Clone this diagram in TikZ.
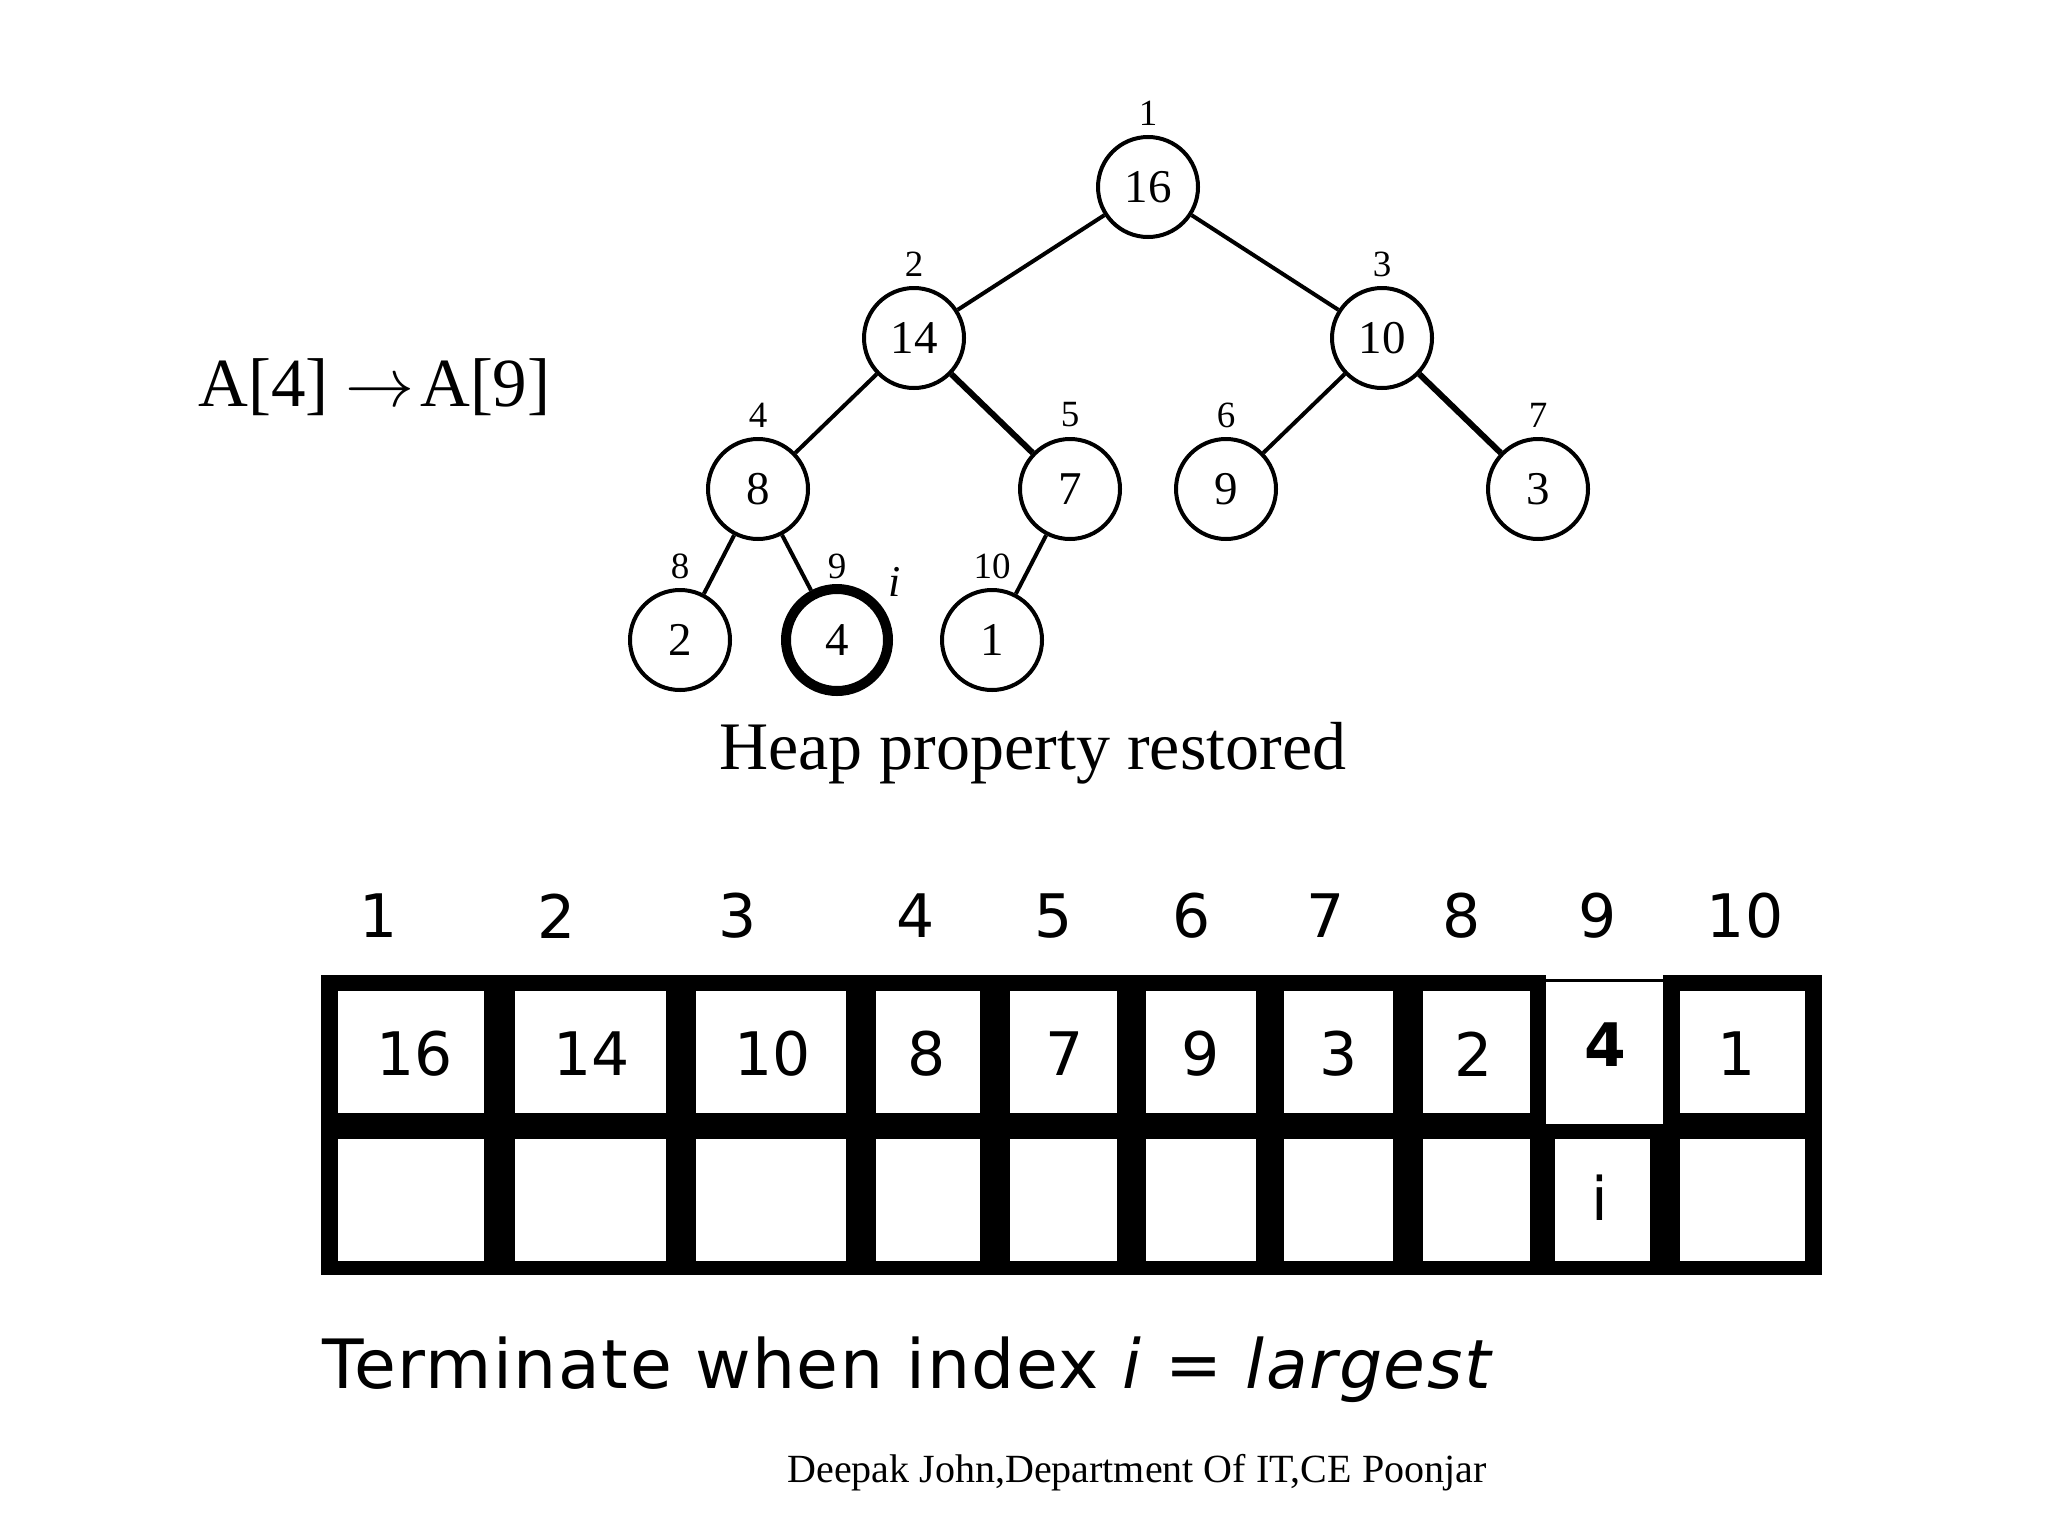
\documentclass[tikz,border=0pt]{standalone}
\usepackage{fix-cm}
\usepackage{fontspec}
\setmainfont{Liberation Serif}
\newfontfamily\dv{DejaVu Sans}[ItalicFont={DejaVu Sans Oblique},BoldFont={DejaVu Sans Bold}]
\newfontfamily\dvsp{DejaVu Sans}[LetterSpace=2.3,ItalicFont={DejaVu Sans Oblique},BoldFont={DejaVu Sans Bold}]
\begin{document}
\begin{tikzpicture}[x=0.5pt,y=-0.5pt,
  hnode/.style={circle,draw,line width=2pt,minimum size=50pt,inner sep=0pt,font=\fontsize{23.5}{24}\selectfont},
  hidx/.style={inner sep=0pt,font=\fontsize{18.5}{19}\selectfont},
  hedge/.style={line width=2pt},
  hedgethick/.style={line width=3pt},
  cellnum/.style={inner sep=0pt,font=\dv\fontsize{30}{30}\selectfont},
  bigtext/.style={anchor=base west,inner sep=0pt,font=\fontsize{34}{35}\selectfont}]
\useasboundingbox (0,0) rectangle (2048,1536);
\fill[white] (0,0) rectangle (2048,1536);
% ---- tree ----
\node[hnode] (n1) at (1148,187) {16};
\node[hnode] (n2) at (914,338) {14};
\node[hnode] (n3) at (1382,338) {10};
\node[hnode] (n4) at (758,489) {8};
\node[hnode] (n5) at (1070,489) {7};
\node[hnode] (n6) at (1226,489) {9};
\node[hnode] (n7) at (1538,489) {3};
\node[hnode] (n8) at (680,640) {2};
\node[hnode,line width=5pt,minimum size=51pt] (n9) at (837,640) {4};
\node[hnode] (n10) at (992,640) {1};
\draw[hedge] (n1) -- (n2);
\draw[hedge] (n1) -- (n3);
\draw[hedge] (n2) -- (n4);
\draw[hedgethick] (n2) -- (n5);
\draw[hedge] (n3) -- (n6);
\draw[hedgethick] (n3) -- (n7);
\draw[hedge] (n4) -- (n8);
\draw[hedge] (n4) -- (n9);
\draw[hedge] (n5) -- (n10);
\node[hidx] (l1) at (1148,113) {1};
\node[hidx] (l2) at (914,264) {2};
\node[hidx] (l3) at (1382,264) {3};
\node[hidx] (l4) at (758,415) {4};
\node[hidx] (l5) at (1070,415) {5};
\node[hidx] (l6) at (1226,415) {6};
\node[hidx] (l7) at (1538,415) {7};
\node[hidx] (l8) at (680,566) {8};
\node[hidx] (l9) at (837,566) {9};
\node[hidx] (l10) at (992,566) {10};
\node[inner sep=0pt,font=\fontsize{22}{22}\selectfont\itshape] (itree) at (895,582) {i};
% ---- texts ----
\node[bigtext,font=\fontsize{34.5}{35}\selectfont] (amap) at (198,406) {A[4] $\rightarrow$\hspace{-6pt} A[9]};
\node[bigtext] (heap) at (719,769) {Heap property restored};
% ---- array ----
\fill[black] (321,975) rectangle (1822,1275);
\foreach \a/\b in {338/484,515/666,696/846,876/980,1010/1117,1146/1256,1284/1393,1423/1530,1680/1805}{
  \fill[white] (\a,991) rectangle (\b,1113);
  \fill[white] (\a,1139) rectangle (\b,1261);
}
\fill[white] (1546,975) rectangle (1663,1124);
\draw[line width=1.5pt] (1546,980.5) -- (1663,980.5);
\fill[white] (1555,1139) rectangle (1650,1261);
\node[cellnum] (v1) at (415,1054) {16};
\node[cellnum] (v2) at (592,1054) {14};
\node[cellnum] (v3) at (773,1054) {10};
\node[cellnum] (v4) at (927,1054) {8};
\node[cellnum] (v5) at (1065,1054) {7};
\node[cellnum] (v6) at (1201,1054) {9};
\node[cellnum] (v7) at (1339,1054) {3};
\node[cellnum] (v8) at (1474,1054) {2};
\node[cellnum,font=\dv\bfseries\fontsize{30}{30}\selectfont] (v9) at (1605,1045) {4};
\node[cellnum] (v10) at (1737,1054) {1};
\node[cellnum] (iarr) at (1600,1198) {i};
\node[cellnum] (t1) at (379,916) {1};
\node[cellnum] (t2) at (557,916) {2};
\node[cellnum] (t3) at (738,916) {3};
\node[cellnum] (t4) at (916,916) {4};
\node[cellnum] (t5) at (1054,916) {5};
\node[cellnum] (t6) at (1192,916) {6};
\node[cellnum] (t7) at (1326,916) {7};
\node[cellnum] (t8) at (1462,916) {8};
\node[cellnum] (t9) at (1598,916) {9};
\node[cellnum] (t10) at (1745,916) {10};
\node[anchor=base west,inner sep=0pt,font=\dvsp\fontsize{34}{34}\selectfont] (term) at (322,1388) {Terminate when index \textit{i} = \textit{largest}};
\node[anchor=base west,inner sep=0pt,font=\fontsize{20}{20}\selectfont] (cred) at (787,1482) {Deepak John,Department Of IT,CE Poonjar};
\end{tikzpicture}
\end{document}
